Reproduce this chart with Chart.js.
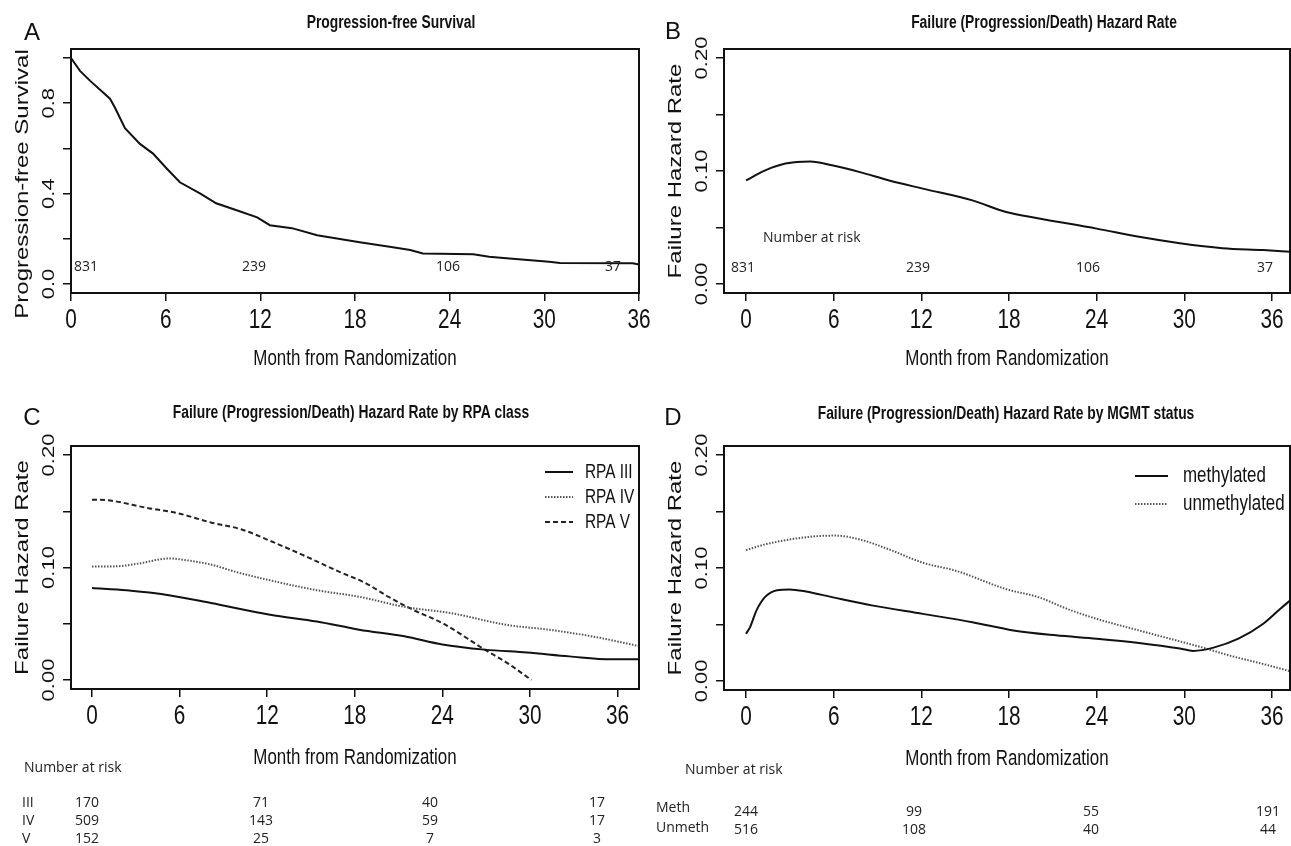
<!DOCTYPE html>
<html>
<head>
<meta charset="utf-8">
<script src="https://cdn.jsdelivr.net/npm/chart.js@4.4.1/dist/chart.umd.min.js"></script>
<style>
  body { margin: 0; background: #fff; }
  #wrap { position: relative; width: 1291px; height: 846px; overflow: hidden; }
  canvas { position: absolute; }
</style>
</head>
<body>
<div id="wrap">
  <canvas id="pA" width="665" height="400" style="left:0;top:0"></canvas>
  <canvas id="pB" width="646" height="400" style="left:645px;top:0"></canvas>
  <canvas id="pC" width="665" height="446" style="left:0;top:400px"></canvas>
  <canvas id="pD" width="646" height="446" style="left:645px;top:400px"></canvas>
</div>
<script>
// ---- data ----
const xTicks = [0, 6, 12, 18, 24, 30, 36];
const pfsTicks = [0, 0.2, 0.4, 0.6, 0.8, 1.0];
const pfsTickLabels = [0, 0.4, 0.8];
const hazTicks = [0, 0.05, 0.10, 0.15, 0.20];
const hazTickLabels = [0, 0.10, 0.20];

// A: progression-free survival
const pfsMonths = [0, 0.57, 1.2, 2.47, 2.79, 3.42, 4.37, 5.2, 6.08, 6.9, 8.2, 9.2, 10.5, 11.8, 12.6, 14.0, 15.6, 18.3, 20.4, 21.5, 22.3, 25.5, 26.5, 27.6, 30.3, 31.0, 35.6, 36];
const pfsValues = [1.0, 0.943, 0.90, 0.82, 0.78, 0.69, 0.62, 0.577, 0.51, 0.45, 0.40, 0.357, 0.326, 0.295, 0.26, 0.247, 0.216, 0.185, 0.163, 0.15, 0.135, 0.132, 0.12, 0.114, 0.098, 0.093, 0.092, 0.086];
const riskAll = ['831', '239', '106', '37'];

// B: overall hazard
const hazMonths = [0, 1.28, 2.7, 4.4, 5.96, 7.8, 9.8, 12.1, 15.5, 17.8, 20.05, 24.0, 26.9, 29.7, 32.6, 35.4, 37.3];
const hazValues = [0.0916, 0.1004, 0.1066, 0.1084, 0.1048, 0.099, 0.0916, 0.0844, 0.074, 0.0637, 0.058, 0.049, 0.0417, 0.036, 0.0317, 0.030, 0.0285];

// C: by RPA class
const rpa3Months = [0, 2.37, 5.26, 8.15, 12.2, 15.4, 18.3, 21.4, 24.0, 26.9, 29.8, 32.7, 35.6, 37.5];
const rpa3Values = [0.0818, 0.0798, 0.0754, 0.0684, 0.058, 0.052, 0.0447, 0.0389, 0.0316, 0.027, 0.0244, 0.021, 0.0184, 0.0184];
const rpa4Months = [0, 1.5, 3.2, 5.26, 6.7, 8.15, 9.9, 12.2, 15.4, 18.3, 21.4, 24.6, 28.4, 31.3, 34.2, 37.5];
const rpa4Values = [0.101, 0.101, 0.1035, 0.108, 0.106, 0.1026, 0.0959, 0.0886, 0.0798, 0.074, 0.065, 0.0594, 0.049, 0.0447, 0.0389, 0.0301];
const rpa5Months = [0, 0.9, 3.8, 5.8, 8.15, 10.2, 12.2, 14.8, 16.8, 18.8, 20.3, 22.0, 24.0, 26.9, 28.4, 30.1];
const rpa5Values = [0.1603, 0.160, 0.1529, 0.1485, 0.140, 0.134, 0.1237, 0.109, 0.097, 0.0857, 0.074, 0.0623, 0.0506, 0.027, 0.0155, 0.0];
const rpaNames = ['RPA III', 'RPA IV', 'RPA V'];
const rpaRows = ['III', 'IV', 'V'];
const rpaRisk = [['170', '71', '40', '17'], ['509', '143', '59', '17'], ['152', '25', '7', '3']];

// D: by MGMT status
const methMonths = [0, 0.28, 0.71, 1.28, 2.13, 2.98, 4.1, 5.96, 8.7, 12.1, 15.5, 18.3, 21.2, 24.0, 26.9, 29.7, 30.6, 32.0, 33.7, 35.4, 36.55, 37.35];
const methValues = [0.0418, 0.0477, 0.0623, 0.074, 0.0804, 0.081, 0.0792, 0.074, 0.0667, 0.0594, 0.052, 0.0447, 0.0404, 0.0374, 0.0336, 0.0287, 0.0266, 0.0295, 0.0374, 0.0506, 0.0637, 0.0725];
const unmethMonths = [0, 1.28, 2.98, 4.7, 6.1, 7.8, 9.8, 12.1, 14.4, 17.8, 20.05, 22.0, 24.0, 26.9, 29.7, 31.4, 33.1, 35.4, 37.35];
const unmethValues = [0.1158, 0.1208, 0.1252, 0.128, 0.1287, 0.1252, 0.1164, 0.1047, 0.0974, 0.0813, 0.074, 0.0637, 0.055, 0.0447, 0.035, 0.029, 0.0225, 0.015, 0.0082];
const mgmtNames = ['methylated', 'unmethylated'];
const mgmtRows = ['Meth', 'Unmeth'];
const mgmtRisk = [['244', '99', '55', '191'], ['516', '108', '40', '44']];

// ---- styling ----
const ink = '#111';
const SANS = '"Liberation Sans", Arial, sans-serif';
const TABLE = '"Open Sans", sans-serif';
const SQ = 0.77; // the figure is squeezed sideways
const solid = [], dotted = [1.5, 1.5], dashed = [5, 3];

function hText(ctx, s, x, y, font, align, sq) {
  ctx.save();
  ctx.font = font;
  ctx.textAlign = align;
  ctx.textBaseline = 'middle';
  ctx.translate(x, y);
  ctx.scale(sq, 1);
  ctx.fillText(s, 0, 0);
  ctx.restore();
}

function vText(ctx, s, x, y, font, sq) {
  ctx.save();
  ctx.font = font;
  ctx.textAlign = 'center';
  ctx.textBaseline = 'middle';
  ctx.translate(x, y);
  ctx.rotate(-Math.PI / 2);
  ctx.scale(1, sq);
  ctx.fillText(s, 0, 0);
  ctx.restore();
}

const panelPlugin = {
  id: 'panel',
  afterDraw(chart, args, o) {
    const ctx = chart.ctx, a = chart.chartArea;
    const xs = chart.scales.x, ys = chart.scales.y;
    ctx.save();
    ctx.fillStyle = ink;
    ctx.strokeStyle = ink;
    ctx.lineWidth = 2;
    ctx.strokeRect(a.left, a.top, a.right - a.left, a.bottom - a.top);

    xs.ticks.forEach(t => hText(ctx, String(t.value), xs.getPixelForValue(t.value), a.bottom + 28, '27px ' + SANS, 'center', SQ));
    o.yLabels.forEach(v => vText(ctx, v.toFixed(o.yDigits), a.left - 22, ys.getPixelForValue(v), '22px ' + SANS, SQ));

    hText(ctx, 'Month from Randomization', (a.left + a.right) / 2, a.bottom + o.xTitleGap, '22px ' + SANS, 'center', SQ);
    vText(ctx, o.yTitle, a.left - 48, o.yTitleY || (a.top + a.bottom) / 2, '24px ' + SANS, SQ);
    hText(ctx, o.title, o.titleX, o.titleY, 'bold 18px ' + SANS, 'center', SQ);
    hText(ctx, o.letter, o.letterX, o.letterY, '24px ' + SANS, 'center', 1);

    (o.legend || []).forEach(it => {
      ctx.save();
      ctx.strokeStyle = it.color;
      ctx.lineWidth = 2;
      ctx.setLineDash(it.dash);
      ctx.beginPath();
      ctx.moveTo(it.x1, it.y);
      ctx.lineTo(it.x2, it.y);
      ctx.stroke();
      ctx.restore();
      hText(ctx, it.label, it.tx, it.y, it.font, 'left', SQ);
    });

    ctx.fillStyle = '#222';
    (o.texts || []).forEach(t => hText(ctx, t.s, t.x, t.y, '14px ' + TABLE, t.align || 'center', 1));
    ctx.restore();
  }
};

function series(months, values, color, dash, smooth) {
  return {
    data: months.map((m, i) => ({ x: m, y: values[i] })),
    borderColor: color,
    borderWidth: 2,
    borderDash: dash,
    pointRadius: 0,
    fill: false,
    tension: 0,
    cubicInterpolationMode: smooth ? 'monotone' : 'default'
  };
}

function makeChart(id, datasets, xr, yr, yTicks, area, panel) {
  const cv = document.getElementById(id);
  const W = cv.width, H = cv.height;
  const axisGrid = { drawOnChartArea: false, drawTicks: true, tickLength: 8, color: ink, lineWidth: 1.5 };
  return new Chart(cv, {
    type: 'line',
    data: { datasets: datasets },
    options: {
      responsive: false,
      animation: false,
      events: [],
      layout: { padding: { left: area.left - 30, right: W - area.right, top: area.top, bottom: H - area.bottom - 30 } },
      plugins: { legend: { display: false }, tooltip: { enabled: false }, panel: panel },
      scales: {
        x: {
          type: 'linear', min: xr[0], max: xr[1],
          afterBuildTicks: s => { s.ticks = xTicks.map(v => ({ value: v })); },
          afterFit: s => { s.height = 30; },
          ticks: { display: false },
          grid: axisGrid,
          border: { display: false }
        },
        y: {
          type: 'linear', min: yr[0], max: yr[1],
          afterBuildTicks: s => { s.ticks = yTicks.map(v => ({ value: v })); },
          afterFit: s => { s.width = 30; },
          ticks: { display: false },
          grid: axisGrid,
          border: { display: false }
        }
      }
    },
    plugins: [panelPlugin]
  });
}

// layout columns for the number-at-risk rows (canvas pixels)
const colsA = [86, 254, 448, 613];
const colsB = [98, 273, 443, 620];
const colsC = [87, 261, 430, 597];
const colsD = [101, 269, 446, 623];

// A
makeChart('pA', [series(pfsMonths, pfsValues, ink, solid, false)],
  [0, 36], [-0.04, 1.04], pfsTicks,
  { left: 71, right: 639, top: 49, bottom: 293 },
  {
    yLabels: pfsTickLabels, yDigits: 1, yTitle: 'Progression-free Survival', yTitleY: 184,
    xTitleGap: 66, title: 'Progression-free Survival', titleX: 391, titleY: 23,
    letter: 'A', letterX: 32, letterY: 33,
    texts: riskAll.map((s, i) => ({ s: s, x: colsA[i], y: 267 }))
  });

// B
makeChart('pB', [series(hazMonths, hazValues, ink, solid, true)],
  [-1.506, 37.23], [-0.008, 0.208], hazTicks,
  { left: 79, right: 645, top: 49, bottom: 293 },
  {
    yLabels: hazTickLabels, yDigits: 2, yTitle: 'Failure Hazard Rate',
    xTitleGap: 66, title: 'Failure (Progression/Death) Hazard Rate', titleX: 399, titleY: 23,
    letter: 'B', letterX: 28, letterY: 32,
    texts: [{ s: 'Number at risk', x: 118, y: 238, align: 'left' }]
      .concat(riskAll.map((s, i) => ({ s: s, x: colsB[i], y: 268 })))
  });

// C
const rpaTexts = [{ s: 'Number at risk', x: 24, y: 368, align: 'left' }];
rpaRows.forEach((r, j) => {
  const y = 403 + j * 18;
  rpaTexts.push({ s: r, x: 22, y: y, align: 'left' });
  rpaRisk[j].forEach((s, i) => rpaTexts.push({ s: s, x: colsC[i], y: y }));
});
makeChart('pC', [
    series(rpa3Months, rpa3Values, ink, solid, true),
    series(rpa4Months, rpa4Values, '#555', dotted, true),
    series(rpa5Months, rpa5Values, '#222', dashed, true)
  ],
  [-1.44, 37.47], [-0.008, 0.208], hazTicks,
  { left: 71, right: 639, top: 46, bottom: 289 },
  {
    yLabels: hazTickLabels, yDigits: 2, yTitle: 'Failure Hazard Rate',
    xTitleGap: 69, title: 'Failure (Progression/Death) Hazard Rate by RPA class', titleX: 351, titleY: 13,
    letter: 'C', letterX: 32, letterY: 18,
    legend: rpaNames.map((n, i) => ({
      label: n, y: 72 + i * 25, x1: 545, x2: 573, tx: 585, font: '20px ' + SANS,
      color: [ink, '#555', '#222'][i], dash: [solid, dotted, dashed][i]
    })),
    texts: rpaTexts
  });

// D
const mgmtTexts = [{ s: 'Number at risk', x: 40, y: 370, align: 'left' }];
mgmtRows.forEach((r, j) => {
  mgmtTexts.push({ s: r, x: 11, y: 408 + j * 20, align: 'left' });
  mgmtRisk[j].forEach((s, i) => mgmtTexts.push({ s: s, x: colsD[i], y: 412 + j * 18 }));
});
makeChart('pD', [
    series(methMonths, methValues, ink, solid, true),
    series(unmethMonths, unmethValues, '#555', dotted, true)
  ],
  [-1.506, 37.23], [-0.008, 0.208], hazTicks,
  { left: 79, right: 645, top: 46, bottom: 290 },
  {
    yLabels: hazTickLabels, yDigits: 2, yTitle: 'Failure Hazard Rate',
    xTitleGap: 69, title: 'Failure (Progression/Death) Hazard Rate by MGMT status', titleX: 361, titleY: 14,
    letter: 'D', letterX: 28, letterY: 18,
    legend: mgmtNames.map((n, i) => ({
      label: n, y: 76 + i * 28, x1: 490, x2: 523, tx: 538, font: '22px ' + SANS,
      color: [ink, '#555'][i], dash: [solid, dotted][i]
    })),
    texts: mgmtTexts
  });
</script>
</body>
</html>
